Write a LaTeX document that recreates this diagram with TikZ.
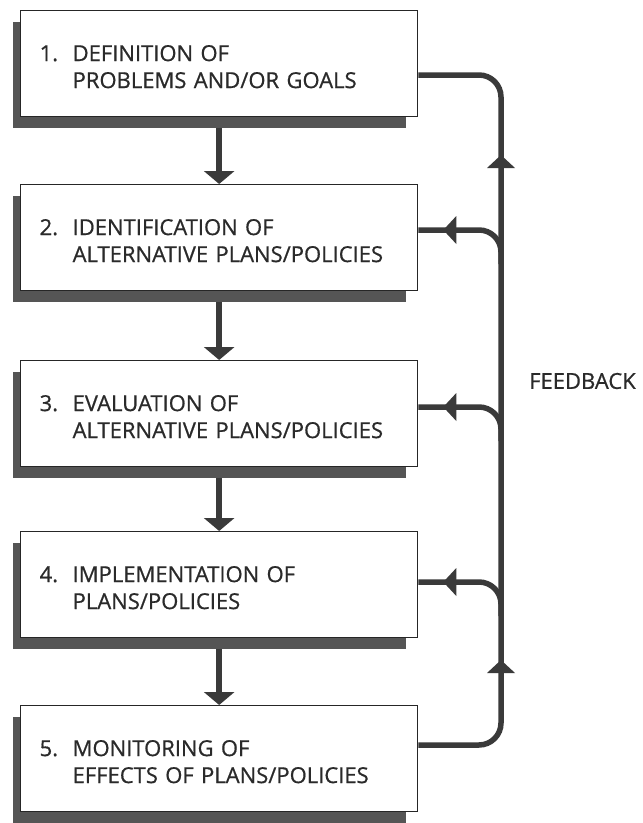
\documentclass[tikz,border=0pt]{standalone}
\usepackage{fontspec}
\setmainfont{Open Sans}[FakeBold=0.7]
\usetikzlibrary{calc,arrows.meta,backgrounds}
\definecolor{ink}{HTML}{3A3A3A}
\definecolor{shade}{HTML}{555555}
\definecolor{textc}{HTML}{2A2A2A}
\newcommand\numl[2]{\rule{0pt}{22pt}\makebox[33pt][l]{#1}#2}
\newcommand\contl[1]{\hspace*{33pt}#1}
\tikzset{
  stepbox/.style={draw=black!85, line width=1.3pt, fill=white, anchor=north west,
    inner xsep=19pt, inner ysep=0pt, text width=359pt, minimum height=106pt,
    align=left, text=textc, font=\fontsize{22}{27}\selectfont},
  boxshadow/.style={fill=shade},
  downarrow/.style={draw=ink, line width=5.5pt, -{Triangle[width=30pt,length=13pt]}},
  fb/.style={draw=ink, line width=5.5pt, rounded corners=22pt},
  fbtip/.style={fill=ink},
  lbl/.style={anchor=west, text=textc, font=\fontsize{22}{27}\selectfont, inner sep=0pt}
}
\begin{document}
\begin{tikzpicture}[x=1pt,y=-1pt]
\useasboundingbox (0,0) rectangle (643,823);

\node[stepbox] (b1) at (20,10)  {\numl{1.}{DEFINITION OF}\\\contl{PROBLEMS AND/OR GOALS}};
\node[stepbox] (b2) at (20,184) {\numl{2.}{IDENTIFICATION OF}\\\contl{ALTERNATIVE PLANS/POLICIES}};
\node[stepbox] (b3) at (20,360) {\numl{3.}{EVALUATION OF}\\\contl{ALTERNATIVE PLANS/POLICIES}};
\node[stepbox] (b4) at (20,531) {\numl{4.}{IMPLEMENTATION OF}\\\contl{PLANS/POLICIES}};
\node[stepbox] (b5) at (20,705) {\numl{5.}{MONITORING OF}\\\contl{EFFECTS OF PLANS/POLICIES}};

\begin{scope}[on background layer]
  \fill[white] (0,0) rectangle (643,823);
  \foreach \b in {b1,b2,b3,b4,b5}
    \fill[boxshadow] ($(\b.north west)+(-7,12)$) rectangle ($(\b.south east)+(-12,11)$);
\end{scope}

% down arrows
\foreach \a/\b in {b1/b2,b2/b3,b3/b4,b4/b5}
  \draw[downarrow] ($(\a.south)+(0,11)$) -- (\b.north);

% feedback loop
\coordinate (vx) at (501,0);
\coordinate (out5) at ($(b5.north east)+(0,40)$);
\coordinate (in1)  at ($(b1.north east)+(0,65)$);
\draw[fb] (out5) -| (vx |- in1) -- (in1);

\foreach \b/\dy in {b2/46,b3/47,b4/51}{
  \coordinate (in) at ($(\b.north east)+(0,\dy)$);
  \draw[fb] ($(vx |- in)+(0,34)$) |- (in);
  \fill[fbtip] ($(in)+(25,0)$) -- ($(in)+(38,-14)$) -- ($(in)+(38,14)$) -- cycle;
}

% up arrows on the vertical line
\coordinate (up1) at (vx |- 0,155);
\coordinate (up2) at (vx |- 0,660);
\foreach \u in {up1,up2}
  \fill[fbtip] (\u) -- ($(\u)+(-14,13)$) -- ($(\u)+(14,13)$) -- cycle;

\node[lbl] (fbl) at (529,381) {FEEDBACK};
\end{tikzpicture}
\end{document}
